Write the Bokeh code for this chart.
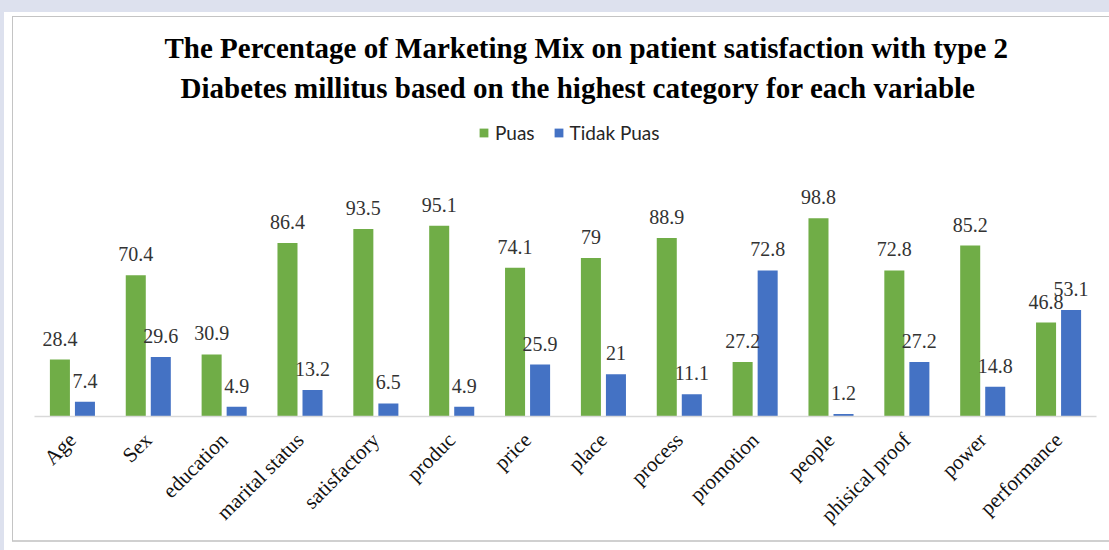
from bokeh.plotting import figure
from bokeh.models import (ColumnDataSource, FactorRange, Range1d, LabelSet, Legend, LegendItem, Title)
from bokeh.transform import dodge
from bokeh.embed import file_html
from bokeh.resources import INLINE

categories = ["Age", "Sex", "education", "marital status", "satisfactory", "produc", "price",
              "place", "process", "promotion", "people", "phisical proof", "power", "performance"]
puas = [28.4, 70.4, 30.9, 86.4, 93.5, 95.1, 74.1, 79, 88.9, 27.2, 98.8, 72.8, 85.2, 46.8]
tidak_puas = [7.4, 29.6, 4.9, 13.2, 6.5, 4.9, 25.9, 21, 11.1, 72.8, 1.2, 27.2, 14.8, 53.1]
series_names = ["Puas", "Tidak Puas"]
title_lines = ["The Percentage of Marketing Mix on patient satisfaction with type 2",
               "Diabetes millitus based on the highest category for each variable"]

GREEN = "#70AD47"
BLUE = "#4472C4"
SERIF = "Liberation Serif"

def fmt(v):
    return ("%g" % v)

src = ColumnDataSource(dict(
    cat=categories, puas=puas, tidak=tidak_puas,
    puas_lbl=[fmt(v) for v in puas], tidak_lbl=[fmt(v) for v in tidak_puas],
))

p = figure(width=1109, height=550, x_range=FactorRange(factors=categories, range_padding=0),
           y_range=Range1d(0, 150), output_backend="svg", toolbar_location=None,
           y_axis_location=None, min_border_left=34, min_border_right=13,
           min_border_top=115, min_border_bottom=134)
p.outline_line_color = None
p.grid.visible = False
p.border_fill_alpha = 0
p.background_fill_alpha = 0

# window-like background strips and the chart's frame, painted behind the transparent canvas
BAND = "#dde1ee"
LINE = "#c4c4c4"
p.styles = {
    "background": ", ".join([
        f"linear-gradient({BAND}, {BAND}) 0px 0px / 100% 12px no-repeat",
        f"linear-gradient({BAND}, {BAND}) 0px 0px / 4px 100% no-repeat",
        f"linear-gradient({LINE}, {LINE}) 12px 16px / 100% 1px no-repeat",
        f"linear-gradient({LINE}, {LINE}) 12px 16px / 1px 525px no-repeat",
        f"linear-gradient(#d0d0d0, #d0d0d0) 12px 540px / 100% 2px no-repeat",
        "white",
    ])
}

off = 0.165
w = 0.264
r1 = p.vbar(x=dodge("cat", -off, range=p.x_range), top="puas", width=w, source=src,
            fill_color=GREEN, line_color=None)
r2 = p.vbar(x=dodge("cat", off, range=p.x_range), top="tidak", width=w, source=src,
            fill_color=BLUE, line_color=None)

for col, lbl, o in (("puas", "puas_lbl", -off), ("tidak", "tidak_lbl", off)):
    p.add_layout(LabelSet(x=dodge("cat", o, range=p.x_range), y=col, text=lbl, source=src,
                          y_offset=14, text_align="center", text_baseline="alphabetic",
                          text_font=SERIF, text_font_size="20px", text_color="#333333"))

ax = p.xaxis[0]
ax.axis_line_color = "#d9d9d9"
ax.axis_line_width = 1.5
ax.major_tick_line_color = None
ax.minor_tick_line_color = None
ax.major_label_orientation = 0.785398
ax.major_label_text_font = SERIF
ax.major_label_text_font_size = "21px"
ax.major_label_text_color = "#111111"
ax.major_label_standoff = 14

legend = Legend(items=[LegendItem(label=series_names[0], renderers=[r1]),
                       LegendItem(label=series_names[1], renderers=[r2])],
                orientation="horizontal", location=(444, 272), border_line_color=None,
                background_fill_alpha=0, label_text_font="Lato", label_text_font_size="19px",
                label_text_color="#262626", glyph_width=11, glyph_height=11, spacing=18,
                padding=0, margin=0, label_standoff=6)
p.add_layout(legend, "center")

t2 = Title(text=title_lines[1], align="left", offset=146, text_font=SERIF, text_font_size="29px",
           text_font_style="bold", text_color="black", standoff=23)
t1 = Title(text=title_lines[0], align="left", offset=130, text_font=SERIF, text_font_size="29px",
           text_font_style="bold", text_color="black", standoff=-11)
p.add_layout(t2, "above")
p.add_layout(t1, "above")

open("out.html", "w").write(file_html(p, INLINE))
